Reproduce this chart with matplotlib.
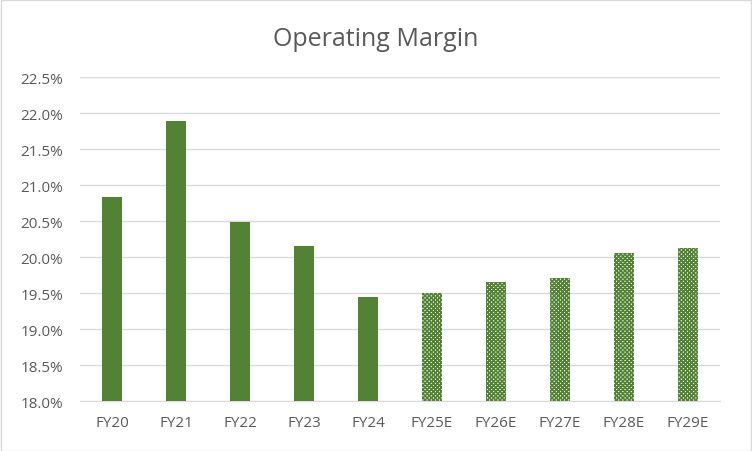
import matplotlib.pyplot as plt
import matplotlib as mpl

categories = ["FY20", "FY21", "FY22", "FY23", "FY24",
              "FY25E", "FY26E", "FY27E", "FY28E", "FY29E"]
margins = [20.84, 21.89, 20.49, 20.15, 19.45,
           19.50, 19.65, 19.71, 20.06, 20.13]
is_estimate = [False, False, False, False, False,
               True, True, True, True, True]
yticks = [18.0, 18.5, 19.0, 19.5, 20.0, 20.5, 21.0, 21.5, 22.0, 22.5]

green = "#548235"
grey_text = "#595959"
grid_col = "#d9d9d9"

mpl.rcParams["font.family"] = ["Open Sans", "DejaVu Sans"]
mpl.rcParams["hatch.linewidth"] = 1.2

fig = plt.figure(figsize=(7.52, 4.52), dpi=100)
ax = fig.add_axes([0.1064, 0.1106, 0.8510, 0.7168])

x = list(range(len(categories)))
for i, (val, est) in enumerate(zip(margins, is_estimate)):
    if est:
        # forecast years: dotted pattern, no fill so gridlines show through
        ax.bar(i, val - 18.0, bottom=18.0, width=0.31, facecolor="none",
               edgecolor=green, hatch="xxxxxxxx", linewidth=0, zorder=3)
    else:
        ax.bar(i, val - 18.0, bottom=18.0, width=0.31, color=green,
               linewidth=0, zorder=3)

ax.set_xlim(-0.5, len(categories) - 0.5)
ax.set_ylim(18.0, 22.5)
ax.set_yticks(yticks)
ax.set_yticklabels([f"{t:.1f}%" for t in yticks])
ax.set_xticks(x)
ax.set_xticklabels(categories)
ax.grid(axis="y", color=grid_col, linewidth=1, zorder=0)
ax.set_axisbelow(True)
for side in ["top", "right", "left"]:
    ax.spines[side].set_visible(False)
ax.spines["bottom"].set_color(grid_col)
ax.tick_params(axis="both", length=0, colors=grey_text, labelsize=11)
ax.tick_params(axis="x", pad=10)
ax.tick_params(axis="y", pad=12)

fig.text(0.5, 0.912, "Operating Margin", ha="center", va="center",
         fontsize=18, color=grey_text)

border = plt.Rectangle((0.001, 0.001), 0.998, 0.997, transform=fig.transFigure,
                       fill=False, edgecolor=grid_col, linewidth=1)
fig.patches.append(border)

fig.savefig("out.png", dpi=100)
